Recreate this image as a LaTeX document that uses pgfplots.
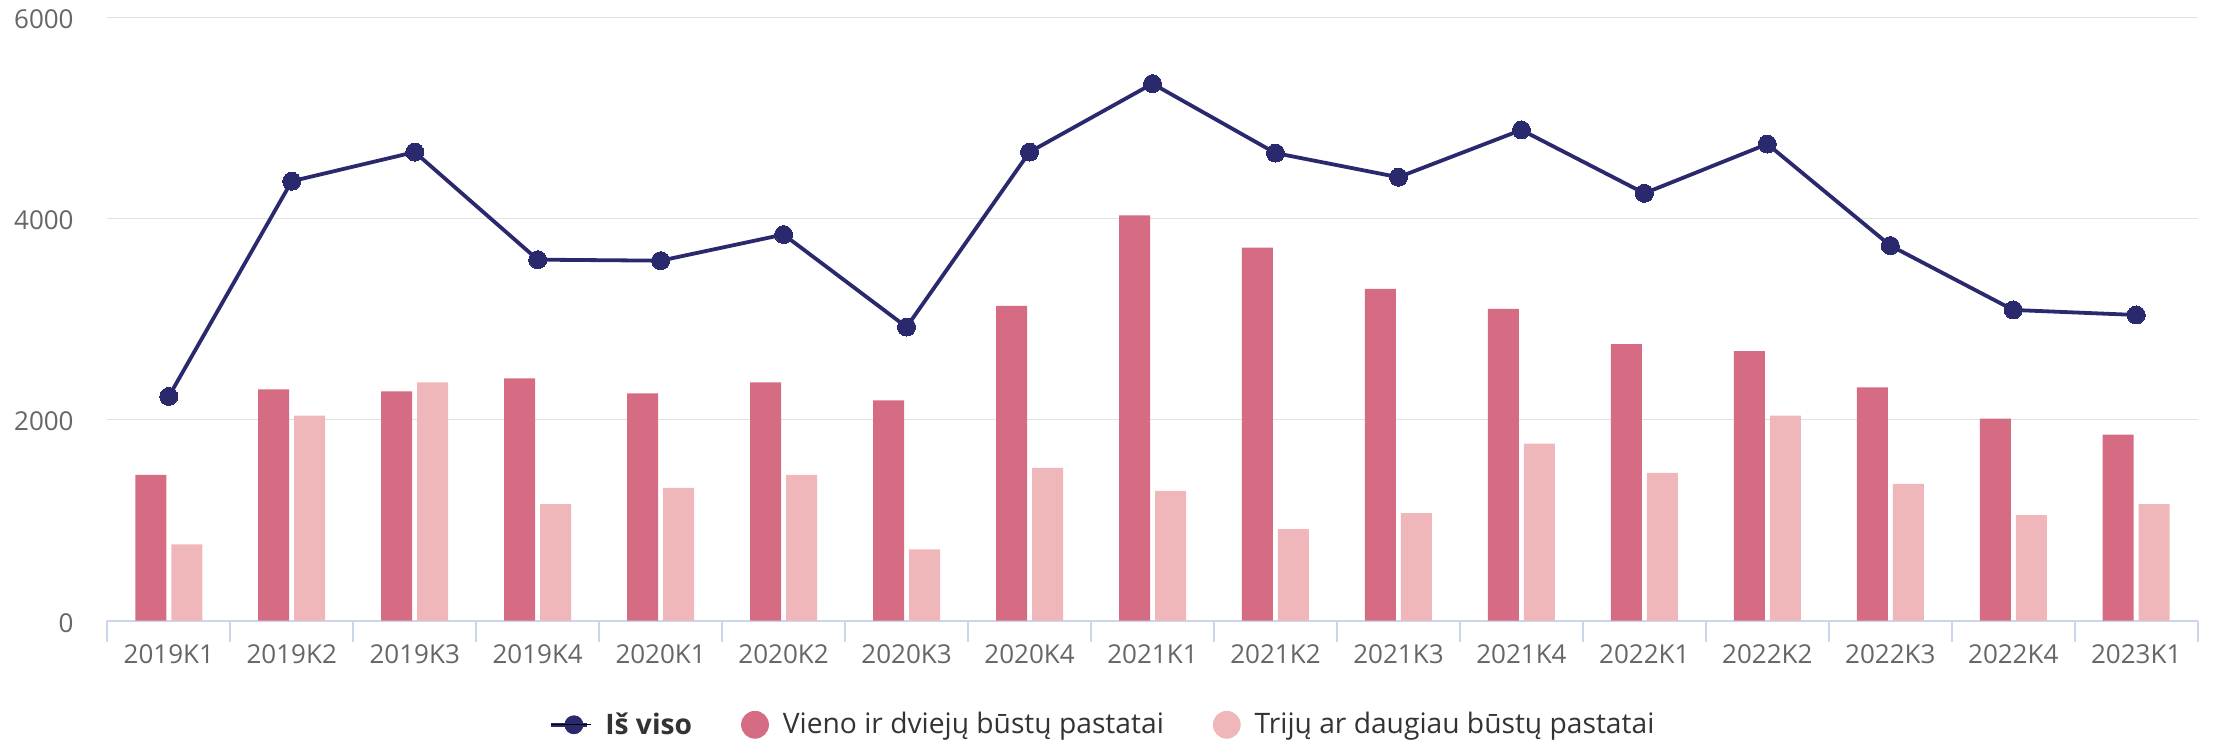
\documentclass[border=0pt]{standalone}
\usepackage{pgfplots}
\usepackage{pgfplotstable}
\pgfplotsset{compat=1.18}
\usepackage{fontspec}
\setmainfont{Open Sans}
\definecolor{navy}{RGB}{43,41,110}
\definecolor{vieno}{RGB}{214,108,132}
\definecolor{trij}{RGB}{240,183,187}
\definecolor{tickgray}{RGB}{102,102,102}
\definecolor{axisblue}{RGB}{204,214,235}
\definecolor{gridgray}{RGB}{226,226,226}
\definecolor{legtext}{RGB}{51,51,51}

\pgfplotstableread{
x total vieno trij
0 2230 1450 760
1 4370 2300 2040
2 4660 2280 2370
3 3590 2410 1160
4 3580 2260 1320
5 3840 2370 1450
6 2920 2190 710
7 4660 3130 1520
8 5340 4030 1290
9 4650 3710 910
10 4410 3300 1070
11 4880 3100 1760
12 4250 2750 1470
13 4740 2680 2040
14 3730 2320 1360
15 3090 2010 1050
16 3040 1850 1160
}\data

\begin{document}
\begin{tikzpicture}
\path[use as bounding box] (-53.65pt,-61.15pt) rectangle (1053.85pt,310.35pt);
\begin{axis}[
  at={(0,0)}, anchor=south west,
  scale only axis, width=1045.2pt, height=301.7pt,
  xmin=-0.5, xmax=16.5, ymin=0, ymax=6000,
  axis x line*=bottom, axis y line*=left,
  x axis line style={draw=axisblue, line width=1pt, -},
  y axis line style={draw=none},
  xtick={0,...,16},
  xticklabels={2019K1,2019K2,2019K3,2019K4,2020K1,2020K2,2020K3,2020K4,2021K1,2021K2,2021K3,2021K4,2022K1,2022K2,2022K3,2022K4,2023K1},
  major tick length=0pt,
  minor xtick={-0.5,0.5,...,16.5},
  minor tick length=10.5pt,
  minor x tick style={draw=axisblue, line width=1pt},
  tick align=outside,
  ytick={0,2000,4000,6000},
  ytick style={draw=none},
  ymajorgrids,
  major grid style={draw=gridgray, line width=0.8pt},
  /pgf/number format/assume math mode=true,
  /pgf/number format/1000 sep={},
  tick label style={font=\fontsize{13}{15}\selectfont, text=tickgray},
  xticklabel style={anchor=north, inner sep=0pt},
  xticklabel shift=11.8pt,
  yticklabel style={anchor=east, inner sep=0pt, yshift=-1pt},
  yticklabel shift=16.65pt,
  legend columns=3,
  legend cell align=left,
  legend style={at={(0.2113,-0.1725)}, anchor=west, draw=none, fill=none,
    inner sep=0pt, outer sep=0pt,
    font=\fontsize{14.1}{16}\selectfont, text=legtext,
    nodes={inner sep=0pt},
    column sep=7pt,
    /tikz/every even column/.append style={column sep=24.5pt}},
]
\addlegendimage{legend image code/.code={\draw[navy,line width=1.9pt] (0pt,0pt) -- (18pt,0pt); \fill[navy] (11.5pt,0pt) circle (4.5pt); \path (0pt,0pt) -- (20pt,0pt);}}
\addlegendentry{\textbf{Iš viso}}
\addlegendimage{legend image code/.code={\fill[vieno] (6.75pt,0pt) circle (6.75pt);}}
\addlegendentry{Vieno ir dviejų būstų pastatai}
\addlegendimage{legend image code/.code={\fill[trij] (6.75pt,0pt) circle (6.75pt);}}
\addlegendentry{Trijų ar daugiau būstų pastatai}

\addplot[forget plot, ybar, bar width=15.5pt, bar shift=-9pt, fill=vieno, draw=none] table[x=x, y=vieno] {\data};
\addplot[forget plot, ybar, bar width=15.5pt, bar shift=9pt, fill=trij, draw=none] table[x=x, y=trij] {\data};
\addplot[forget plot, navy, line width=1.9pt, mark=*, mark size=4.5pt, mark options={fill=navy, draw=navy, line width=0pt}] table[x=x, y=total] {\data};
\end{axis}
\end{tikzpicture}
\end{document}
